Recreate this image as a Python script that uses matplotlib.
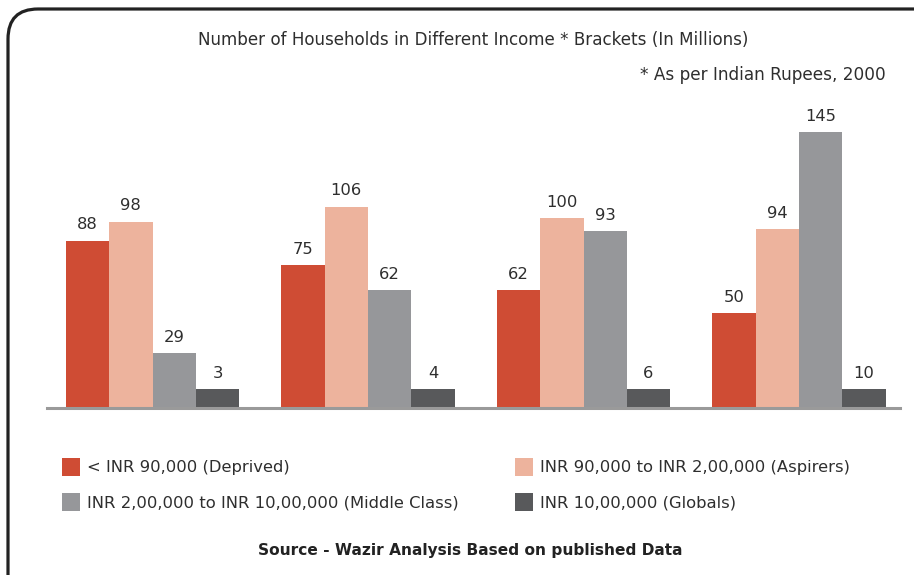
import numpy as np
import matplotlib as mpl
mpl.use('Agg')
import matplotlib.pyplot as plt
from matplotlib.patches import FancyBboxPatch, Patch
from matplotlib.transforms import IdentityTransform

# data
groups = ['G1', 'G2', 'G3', 'G4']
deprived = [88, 75, 62, 50]
aspirers = [98, 106, 100, 94]
middle_class = [29, 62, 93, 145]
globals_ = [3, 4, 6, 10]
series_labels = ['< INR 90,000 (Deprived)',
                 'INR 90,000 to INR 2,00,000 (Aspirers)',
                 'INR 2,00,000 to INR 10,00,000 (Middle Class)',
                 'INR 10,00,000 (Globals)']
colors = ['#CF4C34', '#EDB39D', '#96979A', '#58595B']

plt.rcParams['font.family'] = 'DejaVu Sans'
txt_col = '#2E2E2E'

fig = plt.figure(figsize=(9.14, 5.75), dpi=100)
W, H = 914, 575
ax = fig.add_axes([47 / W, (H - 408) / H, 853 / W, 285 / H])

x = np.arange(len(groups))
bw = 0.201
min_h = 10  # small bars are drawn with a minimum visible height
all_series = [deprived, aspirers, middle_class, globals_]
handles = []
for i, (vals, col) in enumerate(zip(all_series, colors)):
    pos = x + (i - 1.5) * bw
    shown = np.maximum(vals, min_h)
    bars = ax.bar(pos, shown, width=bw, color=col, linewidth=0, zorder=2)
    for b, v in zip(bars, vals):
        ax.annotate(str(v), (b.get_x() + b.get_width() / 2, b.get_height()),
                    xytext=(0, 6), textcoords='offset points',
                    ha='center', va='bottom', fontsize=11.8, color=txt_col)
    handles.append(Patch(facecolor=col, edgecolor='none', label=series_labels[i]))

ax.set_xlim(-0.4896, 3.4687)
ax.set_ylim(0, 150)
ax.axhline(0, color='#9A9A9A', lw=2.2, zorder=3, clip_on=False)
for s in ax.spines.values():
    s.set_visible(False)
ax.set_xticks([])
ax.set_yticks([])
ax.patch.set_alpha(0)

fig.text(473 / W, 1 - 40 / H,
         'Number of Households in Different Income * Brackets (In Millions)',
         ha='center', va='center', fontsize=12.1, color=txt_col)
fig.text(886 / W, 1 - 75 / H, '* As per Indian Rupees, 2000',
         ha='right', va='center', fontsize=12.2, color=txt_col)

leg_kw = dict(loc='upper left', frameon=False, fontsize=11.8, ncol=1,
              handlelength=1.1, handleheight=1.31, handletextpad=0.4,
              labelspacing=1.04, borderpad=0, borderaxespad=0,
              labelcolor=txt_col)
fig.legend(handles=[handles[0], handles[2]], bbox_to_anchor=(62 / W, 1 - 458 / H), **leg_kw)
fig.legend(handles=[handles[1], handles[3]], bbox_to_anchor=(515 / W, 1 - 458 / H), **leg_kw)

fig.text(470 / W, 1 - 550 / H, 'Source - Wazir Analysis Based on published Data',
         ha='center', va='center', fontsize=11.1, fontweight='bold', color='#222222')

# rounded frame, running off the right and bottom edges
frame = FancyBboxPatch((8, -40), 960, 606,
                       boxstyle='round,pad=0,rounding_size=30',
                       transform=IdentityTransform(), facecolor='none',
                       edgecolor='#222222', linewidth=2.3, clip_on=False)
fig.add_artist(frame)

plt.savefig('out.png', dpi=100, facecolor='white')
plt.close()
